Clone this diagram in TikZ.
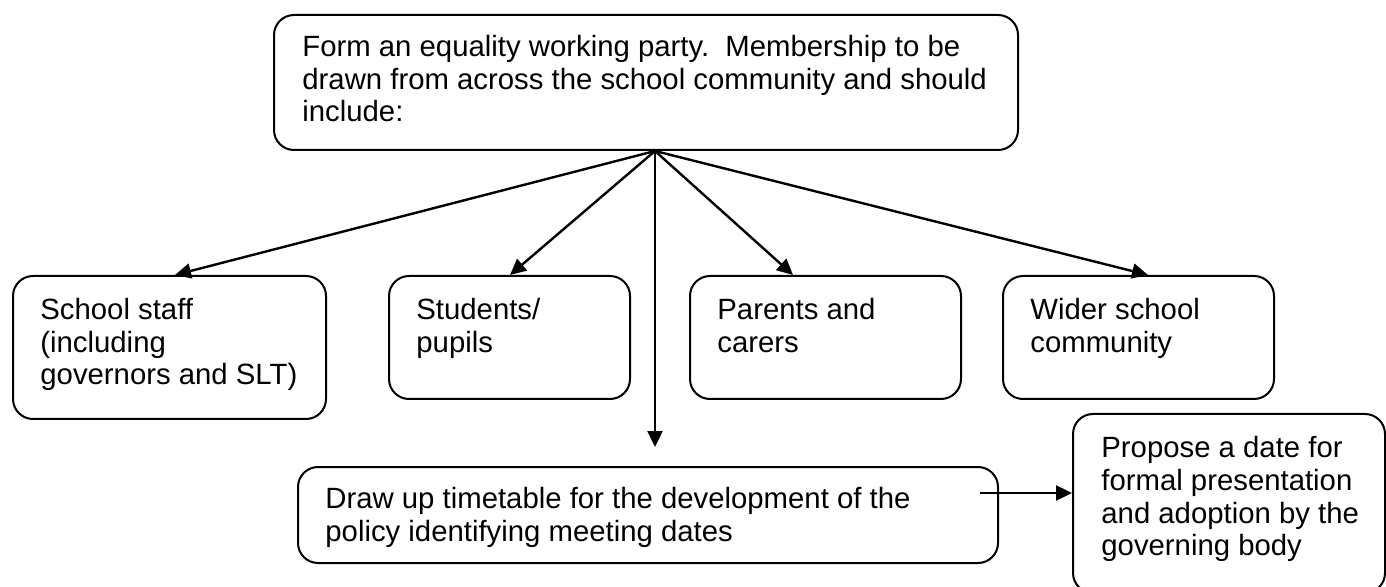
\documentclass[tikz,border=0pt]{standalone}
\usepackage{fontspec}
\setmainfont{Liberation Sans}
\usetikzlibrary{arrows.meta,calc}
\begin{document}
\begin{tikzpicture}[x=0.5pt,y=-0.5pt,
  box/.style={draw,line width=1pt,rounded corners=10pt,inner sep=0pt,anchor=north west},
  txt/.style={anchor=north west,inner sep=0pt,align=left,font=\fontsize{14.66pt}{16.4pt}\selectfont},
  arr/.style={line width=1.2pt,-{Triangle[length=8pt,width=7.5pt]}}]
\useasboundingbox (0,0) rectangle (1386,587);
\clip (0,0) rectangle (1386,587);
% boxes
\node[box,minimum width=372pt,minimum height=67.5pt] (top) at (273,14) {};
\node[box,minimum width=156.5pt,minimum height=71.5pt] (staff) at (12,275) {};
\node[box,minimum width=120.5pt,minimum height=61.5pt] (pupils) at (388,275) {};
\node[box,minimum width=135.5pt,minimum height=61.5pt] (parents) at (689,275) {};
\node[box,minimum width=135.5pt,minimum height=61.5pt] (wider) at (1002,275) {};
\node[box,minimum width=350pt,minimum height=48pt] (bot) at (297,466) {};
\node[box,minimum width=156pt,minimum height=89.5pt] (prop) at (1072,413) {};
% texts
\node[txt] (ttop) at ($(top.north west)+(29,16)$) {\rule{0pt}{13pt}Form an equality working party.\ \ Membership to be\\drawn from across the school community and should\\include:};
\node[txt] (tstaff) at ($(staff.north west)+(28,18)$) {\rule{0pt}{13pt}School staff\\(including\\governors and SLT)};
\node[txt] (tpupils) at ($(pupils.north west)+(28,18)$) {\rule{0pt}{13pt}Students/\\pupils};
\node[txt] (tparents) at ($(parents.north west)+(28,18)$) {\rule{0pt}{13pt}Parents and\\carers};
\node[txt] (twider) at ($(wider.north west)+(28,18)$) {\rule{0pt}{13pt}Wider school\\community};
\node[txt] (tbot) at ($(bot.north west)+(28,16)$) {\rule{0pt}{13pt}Draw up timetable for the development of the\\policy identifying meeting dates};
\node[txt] (tprop) at ($(prop.north west)+(29,18)$) {\rule{0pt}{13pt}Propose a date for\\formal presentation\\and adoption by the\\governing body};
% connectors
\coordinate (hub) at ($(top.south west)+(382,0)$);
\draw[arr] (hub) -- ($(staff.north west)+(163,0)$);
\draw[arr] (hub) -- ($(pupils.north west)+(122,0)$);
\draw[arr] (hub) -- ($(parents.north west)+(104,0)$);
\draw[arr] (hub) -- ($(wider.north west)+(146,0)$);
\draw[arr] (hub) -- ($(bot.north -| hub)+(0,-19)$);
\draw[arr] ($(bot.north east)+(-19,27)$) -- ($(prop.north west)+(0,80)$);
\end{tikzpicture}
\end{document}
